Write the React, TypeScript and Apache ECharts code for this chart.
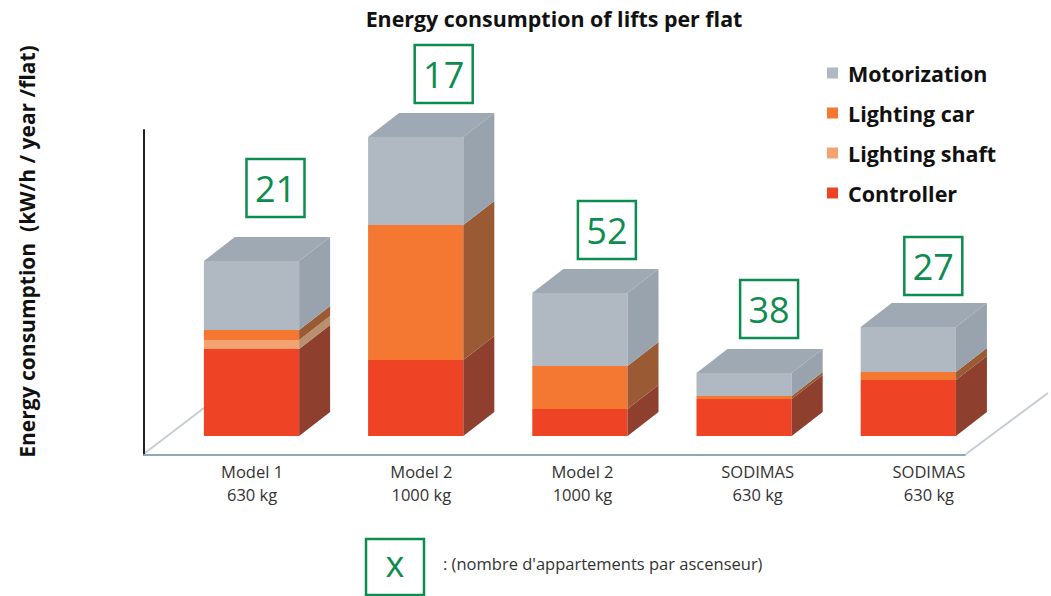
import React, { useEffect, useRef } from "react";
import * as echarts from "echarts";

const categories = ["Model 1\n630 kg", "Model 2\n1000 kg", "Model 2\n1000 kg", "SODIMAS\n630 kg", "SODIMAS\n630 kg"];
const controller = [87, 76, 27, 37, 56];
const lightingShaft = [9, 0, 0, 0, 0];
const lightingCar = [10, 135, 43, 3, 8];
const motorization = [69, 88, 73, 23, 45];
const apartments = [21, 17, 52, 38, 27];

const legendOrder = ["Motorization", "Lighting car", "Lighting shaft", "Controller"];
const FONT = "'Open Sans', 'Noto Sans', sans-serif";
const GREEN = "#0d8c4f";

// layout constants
const labelPad = [52, 62, 56, 78, 92];
const boxShift = [24, 28, 27, 25, 25];
const boxGap = [20, 10, 10, 11, 8];
const BAR_SHIFT = 25.4;
const FLOOR = 19;
const DX = 31;
const DY = -24;
const BOX = 58;

const stack = [
  { name: "Controller", values: controller, front: "#ee4425", side: "#8f3f2d" },
  { name: "Lighting shaft", values: lightingShaft, front: "#f5a272", side: "#b9906f" },
  { name: "Lighting car", values: lightingCar, front: "#f47832", side: "#9a5a34" },
  { name: "Motorization", values: motorization, front: "#b0b9c2", side: "#98a3ad" },
];
const TOP_COLOR = "#9fa9b3";

function totalAt(i: number, upto: number) {
  let t = 0;
  for (let s = 0; s < upto; s++) t += stack[s].values[i];
  return t;
}

function makeBarSeries(s: number) {
  const layer = stack[s];
  return {
    type: "custom",
    name: layer.name,
    itemStyle: { color: layer.front },
    silent: true,
    data: layer.values.map((v, i) => [i, v]),
    encode: { x: 0, y: 1 },
    renderItem: (_: any, api: any) => {
      const i = api.value(0);
      const v = api.value(1);
      if (!v) return null;
      const base = totalAt(i, s);
      const p0 = api.coord([i, base]);
      const p1 = api.coord([i, base + v]);
      const w = api.size([1, 0])[0] * 0.58;
      const x0 = p0[0] + BAR_SHIFT - w / 2;
      const x1 = x0 + w;
      const yb = p0[1] - FLOOR;
      const yt = p1[1] - FLOOR;
      const children: any[] = [
        { type: "rect", shape: { x: x0, y: yt, width: w, height: yb - yt }, style: { fill: layer.front } },
        {
          type: "polygon",
          shape: { points: [[x1, yt], [x1 + DX, yt + DY], [x1 + DX, yb + DY], [x1, yb]] },
          style: { fill: layer.side },
        },
      ];
      if (s === stack.length - 1) {
        children.push({
          type: "polygon",
          shape: { points: [[x0, yt], [x0 + DX, yt + DY], [x1 + DX, yt + DY], [x1, yt]] },
          style: { fill: TOP_COLOR },
        });
      }
      return { type: "group", children };
    },
  };
}

const boxSeries = {
  type: "custom",
  silent: true,
  data: apartments.map((v, i) => [i, totalAt(i, stack.length), v]),
  encode: { x: 0, y: 1 },
  renderItem: (_: any, api: any) => {
    const i = api.value(0);
    const p = api.coord([i, api.value(1)]);
    const cx = p[0] + BAR_SHIFT + boxShift[i];
    const bottom = p[1] - FLOOR + DY - boxGap[i];
    return {
      type: "group",
      children: [
        {
          type: "rect",
          shape: { x: cx - BOX / 2, y: bottom - BOX, width: BOX, height: BOX },
          style: { fill: "#fff", stroke: GREEN, lineWidth: 2.5 },
        },
        {
          type: "text",
          x: cx,
          y: bottom - BOX / 2,
          style: {
            text: String(api.value(2)),
            fill: GREEN,
            font: `400 36px ${FONT}`,
            align: "center",
            verticalAlign: "middle",
          },
        },
      ],
    };
  },
};

const rich: Record<string, any> = {};
labelPad.forEach((p, i) => {
  rich["a" + i] = { padding: [0, 0, 0, p], fontSize: 16.5, lineHeight: 23, color: "#333", fontFamily: FONT };
});

export default function App() {
  const ref = useRef<HTMLDivElement>(null);
  useEffect(() => {
    document.body.style.margin = "0";
    document.body.style.overflow = "hidden";
    const chart = echarts.init(ref.current!, undefined, { renderer: "svg" });
    chart.setOption({
      animation: false,
      backgroundColor: "#fff",
      textStyle: { fontFamily: FONT },
      title: {
        text: "Energy consumption of lifts per flat",
        left: 549,
        top: 3,
        textAlign: "center",
        textStyle: { fontSize: 21.4, fontWeight: 700, color: "#111", fontFamily: FONT },
      },
      legend: {
        data: legendOrder,
        orient: "vertical",
        left: 822,
        top: 57,
        icon: "rect",
        itemWidth: 11,
        itemHeight: 11,
        itemGap: 18,
        selectedMode: false,
        textStyle: { fontSize: 21.5, fontWeight: 700, color: "#111", fontFamily: FONT, padding: [0, 0, 0, 5] },
      },
      grid: { left: 144, right: 86, top: 130, bottom: 141 },
      xAxis: {
        type: "category",
        data: categories,
        axisTick: { show: false },
        axisLine: { lineStyle: { color: "#8fa7b6", width: 2 } },
        axisLabel: {
          margin: 5,
          interval: 0,
          formatter: (v: string, i: number) =>
            v.split("\n").map((t) => `{a${i}|${t}}`).join("\n"),
          rich,
        },
      },
      yAxis: {
        type: "value",
        min: 0,
        max: 325,
        name: "Energy consumption  (kW/h / year /flat)",
        nameLocation: "middle",
        nameGap: 107,
        nameTextStyle: { fontSize: 21, fontWeight: 700, color: "#111", fontFamily: FONT, padding: [0, 0, 0, 82] },
        axisLine: { show: true, lineStyle: { color: "#222", width: 2 } },
        axisTick: { show: false },
        axisLabel: { show: false },
        splitLine: { show: false },
      },
      graphic: [
        { type: "line", z: 0, shape: { x1: 145, y1: 453, x2: 204, y2: 408 }, style: { stroke: "#c6ced4", lineWidth: 2 } },
        { type: "line", z: 0, shape: { x1: 966, y1: 454, x2: 1048, y2: 393 }, style: { stroke: "#c6ced4", lineWidth: 2 } },
        { type: "rect", shape: { x: 366, y: 539, width: 58, height: 56 }, style: { fill: "#fff", stroke: GREEN, lineWidth: 2.5 } },
        { type: "text", x: 395, y: 563, style: { text: "x", fill: GREEN, font: `400 36px ${FONT}`, align: "center", verticalAlign: "middle" } },
        { type: "text", x: 443, y: 563, style: { text: ": (nombre d'appartements par ascenseur)", fill: "#333", font: `400 16.5px ${FONT}`, align: "left", verticalAlign: "middle" } },
      ],
      series: [...stack.map((_, s) => makeBarSeries(s)), boxSeries],
    });
    return () => chart.dispose();
  }, []);
  return <div ref={ref} style={{ width: 1051, height: 596 }} />;
}
